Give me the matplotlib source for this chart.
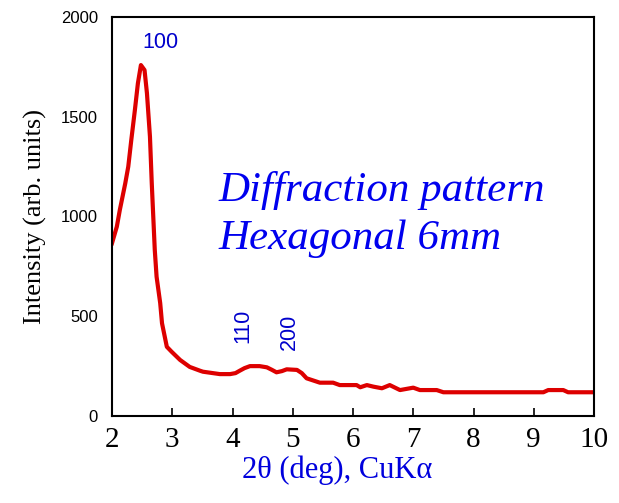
import matplotlib
matplotlib.use("Agg")
import matplotlib.pyplot as plt
import numpy as np

# diffraction profile
two_theta = [2.00, 2.08, 2.13, 2.22, 2.27, 2.32, 2.38, 2.43, 2.48, 2.54, 2.58, 2.63,
             2.66, 2.685, 2.71, 2.74, 2.80, 2.83, 2.91, 2.99, 3.13, 3.29, 3.46,
             3.51, 3.79, 3.96, 4.05, 4.12, 4.20, 4.29, 4.45, 4.57, 4.65, 4.73, 4.82,
             4.90, 5.07, 5.15, 5.23, 5.45, 5.67, 5.78, 6.06, 6.12, 6.23, 6.34, 6.48,
             6.61, 6.78, 7.00, 7.11, 7.39, 7.50, 8.50, 9.16, 9.24, 9.49, 9.57, 10.00]
intensity = [866, 949, 1033, 1166, 1250, 1383, 1534, 1668, 1759, 1734, 1618, 1400,
             1166, 999, 832, 698, 566, 465, 347, 322, 281, 246, 227,
             222, 210, 210, 215, 227, 240, 250, 250, 244, 232, 219, 225,
             234, 231, 215, 189, 167, 167, 155, 155, 144, 155, 147, 139,
             155, 130, 142, 130, 130, 119, 119, 119, 130, 130, 119, 119]

peak_labels = ["100", "110", "200"]
peak_pos = [2.8, 4.18, 4.95]
peak_y = [1870, 450, 420]
peak_rot = [0, 90, 90]

fig = plt.figure(figsize=(6.19, 5.03), dpi=100)
ax = fig.add_axes([112 / 619, 1 - 416 / 503, 482 / 619, 399 / 503])

ax.plot(two_theta, intensity, color="#dd0000", lw=3)

ax.set_xlim(2, 10)
ax.set_ylim(0, 2000)
ax.set_xticks(range(2, 11))
ax.set_yticks([0, 500, 1000, 1500, 2000])

ax.tick_params(axis="x", direction="in", length=6, width=1.2, pad=8,
               labelsize=21, labelfontfamily="Liberation Serif")
ax.tick_params(axis="y", length=0, pad=10, labelsize=12,
               labelfontfamily="Liberation Sans")
for s in ax.spines.values():
    s.set_linewidth(1.5)

ax.set_xlabel("2θ (deg), CuKα", color="#0000dd", fontsize=22,
              family="Liberation Serif", labelpad=2)
ax.xaxis.set_label_coords(0.467, -0.1)
ax.set_ylabel("Intensity (arb. units)", fontsize=19,
              family="Liberation Serif", labelpad=10)

for lab, px, py, rot in zip(peak_labels, peak_pos, peak_y, peak_rot):
    ax.text(px, py, lab, color="#0000cc", fontsize=15.5, family="Liberation Sans",
            rotation=rot, ha="center", va="center")

ax.text(0.22, 0.505, "Diffraction pattern\nHexagonal 6mm", transform=ax.transAxes,
        color="#0000ee", fontsize=31, style="italic", family="Liberation Serif",
        ha="left", va="center", linespacing=1.3)

fig.savefig("out.png", dpi=100)
